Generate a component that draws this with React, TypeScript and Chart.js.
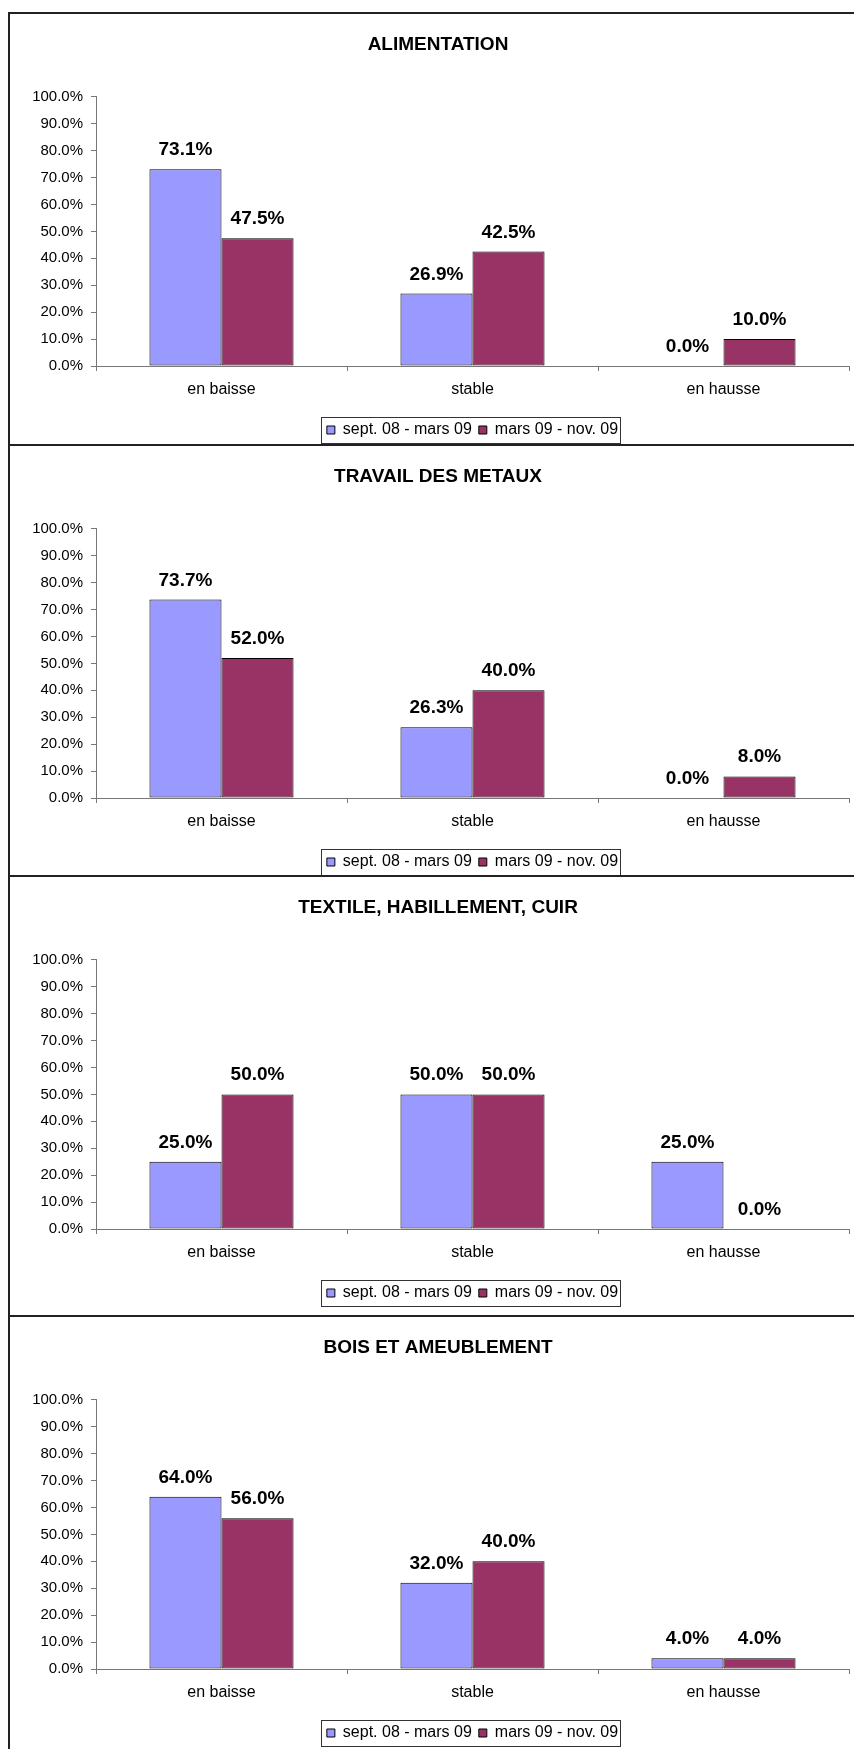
import { useEffect, useRef } from "react";
import { Chart, registerables } from "chart.js";

Chart.register(...registerables);

const FONT = '"Liberation Sans", Arial, sans-serif';

const CATEGORIES = ["en baisse", "stable", "en hausse"];
const SERIES_LABELS = ["sept. 08 - mars 09", "mars 09 - nov. 09"];
const SERIES_COLORS = ["#9999FF", "#993366"];
const Y_TICKS = [0, 10, 20, 30, 40, 50, 60, 70, 80, 90, 100];

const TITLES = [
  "ALIMENTATION",
  "TRAVAIL DES METAUX",
  "TEXTILE, HABILLEMENT, CUIR",
  "BOIS ET AMEUBLEMENT",
];

const ALIMENTATION_S1 = [73.1, 26.9, 0.0];
const ALIMENTATION_S2 = [47.5, 42.5, 10.0];
const METAUX_S1 = [73.7, 26.3, 0.0];
const METAUX_S2 = [52.0, 40.0, 8.0];
const TEXTILE_S1 = [25.0, 50.0, 25.0];
const TEXTILE_S2 = [50.0, 50.0, 0.0];
const BOIS_S1 = [64.0, 32.0, 4.0];
const BOIS_S2 = [56.0, 40.0, 4.0];

const PANEL_TOPS = [13, 445, 876, 1316];
const SEPARATORS = [444, 875, 1315];

const CANVAS_W = 854;
const CANVAS_H = 440;

const valueLabels = {
  id: "valueLabels",
  afterDatasetsDraw(chart: any) {
    const ctx = chart.ctx;
    ctx.save();
    ctx.font = `bold 19px ${FONT}`;
    ctx.fillStyle = "#000";
    ctx.textAlign = "center";
    ctx.textBaseline = "alphabetic";
    chart.data.datasets.forEach((ds: any, i: number) => {
      const meta = chart.getDatasetMeta(i);
      meta.data.forEach((bar: any, j: number) => {
        const v = ds.data[j] as number;
        ctx.fillText(v.toFixed(1) + "%", bar.x, bar.y - 14);
      });
    });
    ctx.restore();
  },
};

const legendFrame = {
  id: "legendFrame",
  afterDraw(chart: any) {
    const lg = chart.legend;
    const hb = lg && lg.legendHitBoxes;
    if (!hb || !hb.length) return;
    const ctx = chart.ctx;
    const left = hb[0].left - 6;
    const last = hb[hb.length - 1];
    const right = last.left + last.width + 2;
    const cy = hb[0].top + hb[0].height / 2;
    ctx.save();
    ctx.strokeStyle = "#333";
    ctx.lineWidth = 1;
    ctx.strokeRect(
      Math.round(left) + 0.5,
      Math.round(cy - 13) + 0.5,
      Math.round(right - left),
      26
    );
    ctx.restore();
  },
};

function Panel(props: { title: string; s1: number[]; s2: number[]; top: number }) {
  const ref = useRef<HTMLCanvasElement | null>(null);
  useEffect(() => {
    if (!ref.current) return;
    const chart = new Chart(ref.current, {
      type: "bar",
      data: {
        labels: CATEGORIES,
        datasets: [
          {
            label: SERIES_LABELS[0],
            data: props.s1,
            backgroundColor: SERIES_COLORS[0],
            borderColor: "#000",
            borderWidth: 1,
            borderSkipped: false,
          },
          {
            label: SERIES_LABELS[1],
            data: props.s2,
            backgroundColor: SERIES_COLORS[1],
            borderColor: "#000",
            borderWidth: 1,
            borderSkipped: false,
          },
        ],
      },
      options: {
        animation: false,
        responsive: false,
        maintainAspectRatio: false,
        devicePixelRatio: 1,
        layout: { padding: { left: 27, right: 5, top: 0, bottom: 5 } },
        datasets: {
          bar: { categoryPercentage: 0.574, barPercentage: 1 },
        },
        plugins: {
          title: {
            display: true,
            text: props.title,
            color: "#000",
            font: { family: FONT, size: 19, weight: "bold" },
            padding: { top: 20, bottom: 41 },
          },
          legend: {
            display: true,
            position: "bottom",
            fullSize: false,
            labels: {
              boxWidth: 8,
              boxHeight: 8,
              padding: 7,
              color: "#000",
              font: { family: FONT, size: 16 },
            },
          },
          tooltip: { enabled: false },
        },
        scales: {
          x: {
            ticks: { padding: 9, color: "#000", font: { family: FONT, size: 16 } },
            grid: { offset: true, drawOnChartArea: false, tickLength: 5, color: "#777" },
            border: { display: true, color: "#777", width: 1 },
            afterFit: (s: any) => {
              s.height = 49;
            },
          },
          y: {
            min: 0,
            max: 100,
            afterBuildTicks: (s: any) => {
              s.ticks = Y_TICKS.map((v) => ({ value: v }));
            },
            ticks: {
              padding: 8,
              color: "#000",
              font: { family: FONT, size: 15 },
              callback: (v: any) => Number(v).toFixed(1) + "%",
            },
            grid: { drawOnChartArea: false, tickLength: 5, color: "#777" },
            border: { display: true, color: "#777", width: 1 },
            afterFit: (s: any) => {
              s.width = 69;
            },
          },
        },
      } as any,
      plugins: [valueLabels, legendFrame],
    });
    return () => chart.destroy();
  }, [props.title, props.s1, props.s2]);

  return (
    <canvas
      ref={ref}
      width={CANVAS_W}
      height={CANVAS_H}
      style={{
        position: "absolute",
        left: 0,
        top: props.top,
        width: CANVAS_W,
        height: CANVAS_H,
        display: "block",
      }}
    />
  );
}

const PANEL_DATA = [
  { s1: ALIMENTATION_S1, s2: ALIMENTATION_S2 },
  { s1: METAUX_S1, s2: METAUX_S2 },
  { s1: TEXTILE_S1, s2: TEXTILE_S2 },
  { s1: BOIS_S1, s2: BOIS_S2 },
];

export default function App() {
  return (
    <div
      style={{
        position: "absolute",
        left: 0,
        top: 0,
        width: 854,
        height: 1749,
        overflow: "hidden",
        background: "#fff",
      }}
    >
      {PANEL_DATA.map((p, i) => (
        <Panel key={i} title={TITLES[i]} s1={p.s1} s2={p.s2} top={PANEL_TOPS[i]} />
      ))}
      <div
        style={{
          position: "absolute",
          left: 8,
          top: 12,
          width: 846,
          height: 2,
          background: "#222",
        }}
      />
      <div
        style={{
          position: "absolute",
          left: 8,
          top: 12,
          width: 2,
          height: 1737,
          background: "#222",
        }}
      />
      {SEPARATORS.map((y, i) => (
        <div
          key={i}
          style={{
            position: "absolute",
            left: 8,
            top: y,
            width: 846,
            height: 2,
            background: "#222",
          }}
        />
      ))}
    </div>
  );
}
